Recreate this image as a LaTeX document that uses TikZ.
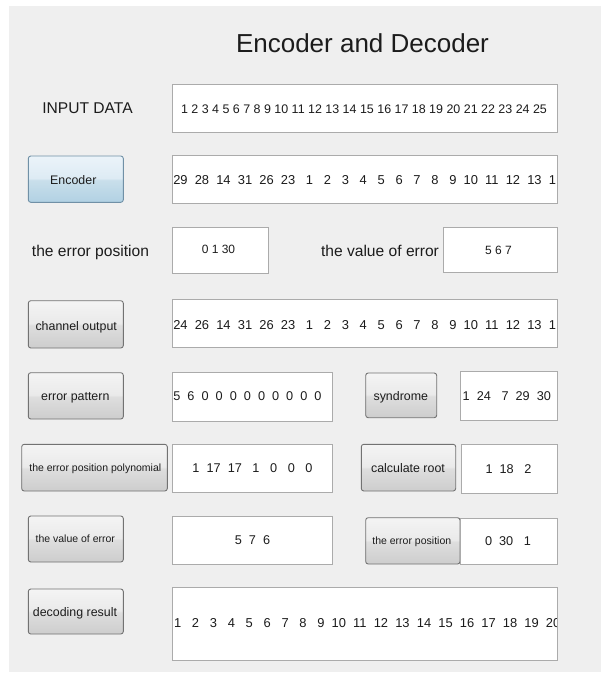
\documentclass[tikz,border=0pt]{standalone}
\usepackage{fontspec}
\setmainfont{Liberation Sans}

% window palette
\definecolor{panel}{HTML}{EFEFEF}
\definecolor{ink}{HTML}{1C1C1C}
\definecolor{fieldline}{HTML}{ABABAB}
\definecolor{btnline}{HTML}{727272}
\definecolor{bluebtnline}{HTML}{7090A6}
\definecolor{gbA}{HTML}{F4F4F4}
\definecolor{gbB}{HTML}{EAEAEA}
\definecolor{gbC}{HTML}{DEDEDE}
\definecolor{gbD}{HTML}{CDCDCD}
\definecolor{bbA}{HTML}{EBF3F9}
\definecolor{bbB}{HTML}{DDEBF4}
\definecolor{bbC}{HTML}{C9DFEB}
\definecolor{bbD}{HTML}{B1D1E3}

% two-tone button gradients (middle 50bp band maps onto the button)
\pgfdeclareverticalshading{greybtn}{100bp}{color(0bp)=(gbD); color(25bp)=(gbD);
  color(49bp)=(gbC); color(51bp)=(gbB); color(75bp)=(gbA); color(100bp)=(gbA)}
\pgfdeclareverticalshading{bluebtn}{100bp}{color(0bp)=(bbD); color(25bp)=(bbD);
  color(49bp)=(bbC); color(51bp)=(bbB); color(75bp)=(bbA); color(100bp)=(bbA)}

% a widget given by its top-left and bottom-right corners
\newcommand\uibox[6]{\node[#1, minimum width={(#5-#3)*1pt}, minimum height={(#6-#4)*1pt}] (#2) at (#3,#4) {};}

\tikzset{
  field/.style={draw=fieldline, fill=white, line width=0.9pt, inner sep=0pt, outer sep=0pt, anchor=north west},
  btn/.style={draw=btnline, line width=0.9pt, rounded corners=2.5pt, shading=greybtn, inner sep=0pt, outer sep=0pt, anchor=north west},
  bluebtn/.style={btn, draw=bluebtnline, shading=bluebtn},
  txt/.style={inner sep=0pt, outer sep=0pt, text=ink},
  titletext/.style={txt, font=\fontsize{26}{30}\selectfont},
  labeltext/.style={txt, font=\fontsize{15.6}{18}\selectfont},
  btntext/.style={txt, font=\fontsize{12.4}{15}\selectfont},
  smallbtntext/.style={txt, font=\fontsize{10.5}{13}\selectfont},
  numtext/.style={txt, font=\fontsize{12.7}{15}\selectfont},
  longnum/.style={txt, font=\fontsize{12.9}{15}\selectfont},
  smallnum/.style={txt, font=\fontsize{12}{14}\selectfont},
}

\begin{document}
\begin{tikzpicture}[x=1pt, y=-1pt]
\useasboundingbox (0,0) rectangle (601,673);
\fill[white] (0,0) rectangle (601,673);
\fill[panel] (9,6) rectangle (601,672);

% title and plain labels
\node[titletext, anchor=base] (title) at (362.5,52) {Encoder and Decoder};
\node[labeltext, anchor=base] (inLbl) at (87.5,113) {INPUT DATA};
\node[labeltext, anchor=base] (posLbl) at (90.5,256.7) {the error position};
\node[labeltext, anchor=base] (valLbl) at (380,256.7) {the value of error};

% buttons
\uibox{bluebtn}{encBtn}{28.3}{156}{123.3}{202.3}
\uibox{btn}{chanBtn}{28.3}{300.7}{123.3}{348}
\uibox{btn}{patBtn}{28.3}{372.7}{123.3}{419}
\uibox{btn}{synBtn}{365.7}{373}{436.7}{417.7}
\uibox{btn}{polyBtn}{21.7}{444.3}{167.3}{491}
\uibox{btn}{rootBtn}{361.3}{444.3}{455.7}{491}
\uibox{btn}{valBtn}{28.3}{516}{123.3}{562}
\uibox{btn}{posBtn}{365.7}{517.7}{460}{564}
\uibox{btn}{decBtn}{28.3}{589}{123.3}{634}

\node[btntext, anchor=base] (encBtnT) at (73.3,184) {Encoder};
\node[btntext, anchor=base] (chanBtnT) at (76.2,330) {channel output};
\node[btntext, anchor=base] (patBtnT) at (75.3,400) {error pattern};
\node[btntext, anchor=base] (synBtnT) at (400.8,400) {syndrome};
\node[smallbtntext, anchor=base] (polyBtnT) at (95.3,471.7) {the error position polynomial};
\node[btntext, anchor=base] (rootBtnT) at (408,472.3) {calculate root};
\node[smallbtntext, anchor=base] (valBtnT) at (75.3,542.3) {the value of error};
\node[smallbtntext, anchor=base] (posBtnT) at (411.8,544.3) {the error position};
\node[btntext, anchor=base] (decBtnT) at (75,616.7) {decoding result};

% edit fields
\uibox{field}{inBox}{172}{84}{557}{132}
\uibox{field}{encBox}{172}{155}{557}{203}
\uibox{field}{posBox}{172}{227}{268}{273}
\uibox{field}{valBox}{443}{227}{557}{272}
\uibox{field}{chanBox}{172}{299}{557}{347}
\uibox{field}{patBox}{172}{372}{332}{421}
\uibox{field}{synBox}{460.7}{371.7}{557}{420.7}
\uibox{field}{polyBox}{172}{444}{332.5}{492}
\uibox{field}{rootBox}{461}{444}{557}{493}
\uibox{field}{vecBox}{172}{516}{332}{564}
\uibox{field}{locBox}{460}{518.3}{557}{564}
\uibox{field}{decBox}{172}{587.7}{557}{660}

% field contents
\node[numtext, anchor=base, font=\fontsize{12.45}{15}\selectfont] (inT) at (364,113)
  {1 2 3 4 5 6 7 8 9 10 11 12 13 14 15 16 17 18 19 20 21 22 23 24 25};
\begin{scope}
  \clip ([xshift=1pt,yshift=1pt]encBox.south west) rectangle ([xshift=-2pt,yshift=-1pt]encBox.north east);
  \node[longnum, anchor=base west] (encT) at (173.3,184)
    {29~~28~~14~~31~~26~~23~~~1~~~2~~~3~~~4~~~5~~~6~~~7~~~8~~~9~~10~~11~~12~~13~~14};
\end{scope}
\node[smallnum, anchor=base] (posT) at (218.5,253) {0 1 30};
\node[smallnum, anchor=base] (valT) at (498.5,254) {5 6 7};
\begin{scope}
  \clip ([xshift=1pt,yshift=1pt]chanBox.south west) rectangle ([xshift=-2pt,yshift=-1pt]chanBox.north east);
  \node[longnum, anchor=base west] (chanT) at (173.3,329.3)
    {24~~26~~14~~31~~26~~23~~~1~~~2~~~3~~~4~~~5~~~6~~~7~~~8~~~9~~10~~11~~12~~13~~14};
\end{scope}
\node[numtext, anchor=base west] (patT) at (173.3,400.7) {5~~6~~0~~0~~0~~0~~0~~0~~0~~0~~0};
\node[numtext, anchor=base west] (synT) at (462.7,400) {1~~24~~~7~~29~~30};
\node[numtext, anchor=base] (polyT) at (252.5,472.3) {1~~17~~17~~~1~~~0~~~0~~~0};
\node[numtext, anchor=base] (rootT) at (508.5,473.3) {1~~18~~~2};
\node[numtext, anchor=base] (vecT) at (252.5,544.3) {5~~7~~6};
\node[numtext, anchor=base] (locT) at (508,545.7) {0~~30~~~1};
\begin{scope}
  \clip ([xshift=1pt,yshift=1pt]decBox.south west) rectangle ([xshift=-1pt,yshift=-1pt]decBox.north east);
  \node[longnum, anchor=base west] (decT) at (174,627.7)
    {1~~~2~~~3~~~4~~~5~~~6~~~7~~~8~~~9~~10~~11~~12~~13~~14~~15~~16~~17~~18~~19~~20};
\end{scope}
\end{tikzpicture}
\end{document}
